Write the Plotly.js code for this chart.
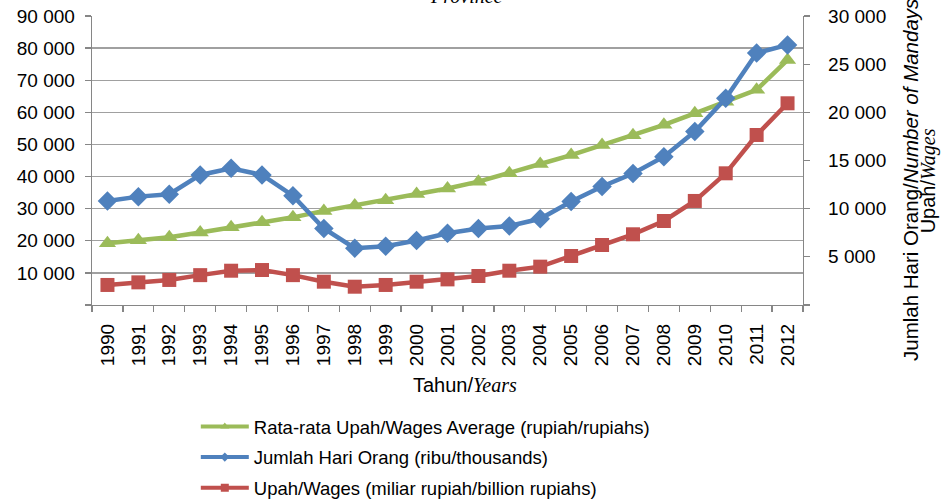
<!DOCTYPE html>
<html>
<head>
<meta charset="utf-8">
<script src="https://cdn.plot.ly/plotly-3.0.1.min.js"></script>
<style>
html,body{margin:0;padding:0;background:#fff;}
#chart{width:944px;height:500px;}
</style>
</head>
<body>
<div id="chart"></div>
<script>
// ---- data ----
const years = ['1990','1991','1992','1993','1994','1995','1996','1997','1998','1999','2000','2001','2002','2003','2004','2005','2006','2007','2008','2009','2010','2011','2012'];
// Rata-rata Upah (rupiah) - left axis
const avgWages = [19200, 20200, 21100, 22600, 24200, 25800, 27300, 29300, 31000, 32600, 34600, 36300, 38400, 41000, 43900, 46700, 49800, 52900, 56100, 59700, 63300, 67000, 76300];
// Jumlah Hari Orang (ribu) - right axis
const mandays = [10800, 11250, 11500, 13500, 14200, 13500, 11350, 7950, 5900, 6100, 6700, 7450, 7950, 8200, 8950, 10750, 12300, 13650, 15400, 18000, 21450, 26150, 27000];
// Upah (miliar rupiah) - right axis
const wages = [2080, 2350, 2600, 3100, 3560, 3630, 3100, 2420, 1900, 2080, 2420, 2660, 3010, 3560, 3980, 5090, 6230, 7340, 8720, 10800, 13670, 17650, 20940];

const seriesNames = ['Rata-rata Upah/Wages Average (rupiah/rupiahs)', 'Jumlah Hari Orang (ribu/thousands)', 'Upah/Wages (miliar rupiah/billion rupiahs)'];

const leftTickVals = [0, 10000, 20000, 30000, 40000, 50000, 60000, 70000, 80000, 90000];
const leftTickText = ['', '10 000', '20 000', '30 000', '40 000', '50 000', '60 000', '70 000', '80 000', '90 000'];
const rightTickVals = [0, 5000, 10000, 15000, 20000, 25000, 30000];
const rightTickText = ['', '5 000', '10 000', '15 000', '20 000', '25 000', '30 000'];

const SERIF = '"Liberation Serif","Times New Roman",serif';
const titleTop = '<i>Province</i>';
const xTitle = 'Tahun/<span style="font-family:\'Liberation Serif\',\'Times New Roman\',serif;font-style:italic">Years</span>';
const rightTitle1 = 'Jumlah Hari Orang/<i>Number of Mandays</i>';
const rightTitle2 = 'Upah/<span style="font-family:\'Liberation Serif\',\'Times New Roman\',serif;font-style:italic">Wages</span>';

// ---- styling ----
const GREEN = '#9BBB59', BLUE = '#4F81BD', RED = '#C0504D';
const AXIS = '#868686', GRID = '#A0A0A0';
const FONT = '"Liberation Sans", Arial, sans-serif';

const traces = [
  {x: years, y: avgWages, name: seriesNames[0], yaxis: 'y', type: 'scatter', mode: 'lines+markers',
   line: {color: GREEN, width: 4.5}, marker: {symbol: 'triangle-up', size: 15, color: GREEN}, showlegend: false},
  {x: years, y: mandays, name: seriesNames[1], yaxis: 'y2', type: 'scatter', mode: 'lines+markers',
   line: {color: BLUE, width: 4.5}, marker: {symbol: 'diamond', size: 15, color: BLUE}, showlegend: false},
  {x: years, y: wages, name: seriesNames[2], yaxis: 'y2', type: 'scatter', mode: 'lines+markers',
   line: {color: RED, width: 4.5}, marker: {symbol: 'square', size: 14, color: RED}, showlegend: false},
  // legend entries (no data points)
  {x: [years[0]], y: [null], name: seriesNames[0], type: 'scatter', mode: 'lines+markers', legendgroup: 'a',
   line: {color: GREEN, width: 4}, marker: {symbol: 'triangle-up', size: 8, color: GREEN}},
  {x: [years[0]], y: [null], name: seriesNames[1], type: 'scatter', mode: 'lines+markers', legendgroup: 'b',
   line: {color: BLUE, width: 4}, marker: {symbol: 'diamond', size: 7, color: BLUE}},
  {x: [years[0]], y: [null], name: seriesNames[2], type: 'scatter', mode: 'lines+markers', legendgroup: 'c',
   line: {color: RED, width: 4}, marker: {symbol: 'square', size: 8, color: RED}}
];

const layout = {
  width: 944, height: 500,
  margin: {l: 92, r: 141, t: 16, b: 195, pad: 0},
  paper_bgcolor: '#fff', plot_bgcolor: '#fff',
  font: {family: FONT, size: 19, color: '#000'},
  showlegend: true,
  legend: {xref: 'paper', yref: 'container', x: 0.146, xanchor: 'left', y: 0.184, yanchor: 'top',
           orientation: 'v', font: {family: FONT, size: 18.5, color: '#000'}, itemwidth: 48, tracegroupgap: 3.5,
           bgcolor: 'rgba(0,0,0,0)', traceorder: 'grouped'},
  xaxis: {type: 'category', tickson: 'boundaries', ticks: 'outside', ticklen: 6, tickcolor: AXIS, tickwidth: 1.3,
          showline: true, linecolor: AXIS, linewidth: 1.3, showgrid: false, zeroline: false,
          tickangle: -90, tickfont: {size: 19}, range: [-0.5, 22.5], ticklabelstandoff: 10, automargin: false},
  yaxis: {range: [0, 90000], tickvals: leftTickVals, ticktext: leftTickText, ticks: 'outside', ticklen: 6,
          tickcolor: AXIS, tickwidth: 1.3, showline: true, linecolor: AXIS, linewidth: 1.3,
          showgrid: true, gridcolor: GRID, gridwidth: 1.3, zeroline: false, tickfont: {size: 19},
          ticklabelstandoff: 6, automargin: false},
  yaxis2: {range: [0, 30000], tickvals: rightTickVals, ticktext: rightTickText, overlaying: 'y', side: 'right',
           ticks: 'outside', ticklen: 6, tickcolor: AXIS, tickwidth: 1.3, showline: true, linecolor: AXIS,
           linewidth: 1.3, showgrid: false, zeroline: false, tickfont: {size: 19}, ticklabelstandoff: 14,
           automargin: false},
  annotations: [
    {text: titleTop, xref: 'paper', yref: 'paper', x: 0.527, y: 1.024, xanchor: 'center', yanchor: 'bottom',
     showarrow: false, font: {family: SERIF, size: 20, color: '#000'}},
    {text: xTitle, xref: 'paper', yref: 'paper', x: 0.5246, y: -0.2768, xanchor: 'center', yanchor: 'middle',
     showarrow: false, font: {family: FONT, size: 20, color: '#000'}},
    {text: rightTitle1, xref: 'paper', yref: 'paper', x: 1.1505, y: -0.2007, xanchor: 'center', yanchor: 'bottom',
     showarrow: false, textangle: -90, font: {family: FONT, size: 20.5, color: '#000'}},
    {text: rightTitle2, xref: 'paper', yref: 'paper', x: 1.177, y: 0.4308, xanchor: 'center', yanchor: 'middle',
     showarrow: false, textangle: -90, font: {family: FONT, size: 20, color: '#000'}}
  ]
};

Plotly.newPlot('chart', traces, layout, {staticPlot: true, displayModeBar: false});
</script>
</body>
</html>
